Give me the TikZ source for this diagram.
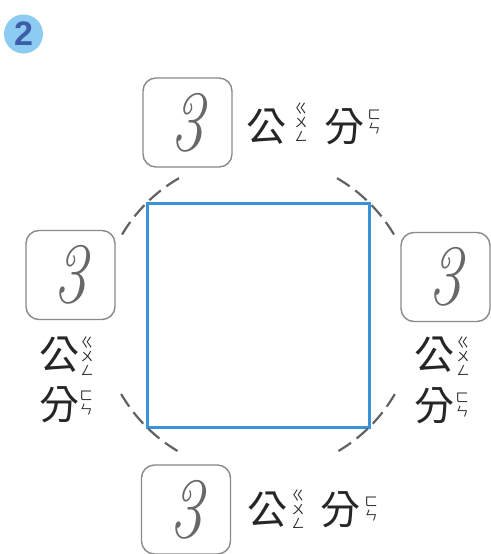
\documentclass[tikz,border=0pt]{standalone}
\usepackage{fontspec}
\usepackage{graphicx}
\newfontfamily\cjk{Noto Sans CJK TC}
\newfontfamily\badgefont{Liberation Sans}
\definecolor{boxgray}{HTML}{8A8A8A}
\definecolor{dashgray}{HTML}{626262}
\definecolor{handgray}{HTML}{686868}
\definecolor{sqblue}{HTML}{3A92DA}
\definecolor{badgefill}{HTML}{8CCBF2}
\definecolor{badgetext}{HTML}{3D5DA8}
\newcommand{\handthree}{\scalebox{0.78}[1]{3}}
\begin{document}
\begin{tikzpicture}[x=1pt,y=-1pt,
  box/.style={draw=boxgray, line width=1.4pt, rounded corners=13pt, minimum size=89pt, inner sep=0pt,
              text=handgray, font=\fontsize{86}{86}\selectfont\itshape},
  hz/.style={font=\cjk\fontsize{40}{40}\selectfont, inner sep=0pt, text=black!85},
  zy/.style={font=\cjk\fontsize{13}{14}\selectfont, align=center, inner sep=0pt, text=black!85},
  arcs/.style={draw=dashgray, line width=2.2pt, dash pattern=on 15pt off 7pt},
  sq/.style={draw=sqblue, line width=3pt, minimum width=222pt, minimum height=224pt, inner sep=0pt},
  badge/.style={circle, fill=badgefill, minimum size=39pt, inner sep=0pt, text=badgetext,
                font=\badgefont\bfseries\fontsize{34}{34}\selectfont}
]
\useasboundingbox (0,0) rectangle (490,554);
\fill[white] (0,0) rectangle (490,554);

% badge
\node[badge] (badge) at (23.5,34) {2};

% square
\coordinate (O) at (258,315);
\node[sq] (square) at (O) {};

% dashed circle arcs
\draw[arcs] ([shift={(-120:158)}]O) arc[start angle=-120, end angle=-150, radius=158];
\draw[arcs] ([shift={(-60:158)}]O) arc[start angle=-60, end angle=-30, radius=158];
\draw[arcs] ([shift={(-210:158)}]O) arc[start angle=-210, end angle=-240, radius=158];
\draw[arcs] ([shift={(-330:158)}]O) arc[start angle=-330, end angle=-300, radius=158];

% top
\node[box] (btop) at (187.5,122.5) {\handthree};
\node[hz] (gtop) at (266.5,127) {公};
\node[zy] (gztop) at (301,122) {ㄍ\\ㄨ\\ㄥ};
\node[hz] (ftop) at (344,127) {分};
\node[zy] (fztop) at (374,122) {ㄈ\\ㄣ};

% left
\node[box] (bleft) at (70.5,275) {\handthree};
\node[hz] (gleft) at (59,355) {公};
\node[zy] (gzleft) at (87,356) {ㄍ\\ㄨ\\ㄥ};
\node[hz] (fleft) at (59,405) {分};
\node[zy] (fzleft) at (86,403) {ㄈ\\ㄣ};

% right
\node[box] (bright) at (445.5,277) {\handthree};
\node[hz] (gright) at (434,355) {公};
\node[zy] (gzright) at (463,356) {ㄍ\\ㄨ\\ㄥ};
\node[hz] (fright) at (434,406) {分};
\node[zy] (fzright) at (462,405) {ㄈ\\ㄣ};

% bottom
\node[box] (bbot) at (186,509.5) {\handthree};
\node[hz] (gbot) at (267.5,510) {公};
\node[zy] (gzbot) at (298,509) {ㄍ\\ㄨ\\ㄥ};
\node[hz] (fbot) at (340,510) {分};
\node[zy] (fzbot) at (371,509) {ㄈ\\ㄣ};
\end{tikzpicture}
\end{document}
